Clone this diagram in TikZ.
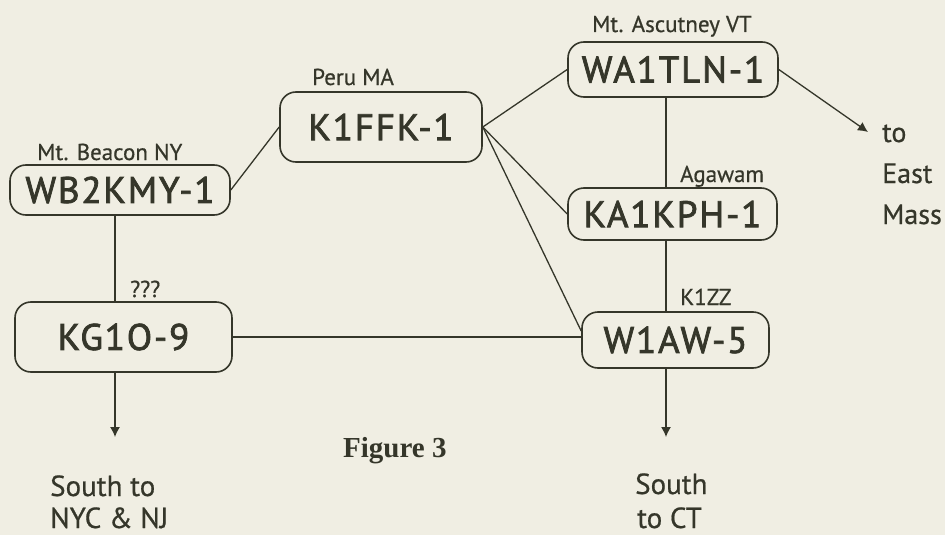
\documentclass[tikz,border=0pt]{standalone}
\usepackage{fontspec}
\setmainfont{PT Sans}
\newfontfamily\callfont[LetterSpace=5,FakeBold=2]{PT Sans}
\newfontfamily\sitefont[FakeBold=0.6]{PT Sans}
\newfontfamily\figfont{Liberation Serif}
\usetikzlibrary{arrows.meta}
\definecolor{ink}{HTML}{35362A}
\definecolor{paper}{HTML}{F0EEE3}
\tikzset{
  station/.style={draw=ink, line width=1.6pt, rounded corners=16pt, inner sep=0pt,
    text=ink, font=\callfont\fontsize{37}{40}\selectfont},
  site/.style={text=ink, font=\sitefont\fontsize{23}{26}\selectfont, inner sep=0pt, anchor=base west},
  link/.style={draw=ink, line width=1.3pt},
  feed/.style={link, -{Latex[length=10pt,width=10pt]}},
  dest/.style={text=ink, font=\sitefont\fontsize{29}{35}\selectfont, inner sep=0pt, anchor=base west},
}
\begin{document}
\begin{tikzpicture}[x=1pt,y=-1pt]
\fill[paper] (0,0) rectangle (945,535);
\useasboundingbox (0,0) rectangle (945,535);

% stations
\node[station, minimum width=220pt, minimum height=50pt] (wb) at (120,190) {WB2KMY-1};
\node[station, minimum width=202pt, minimum height=70pt] (kf) at (381,127) {K1FFK-1};
\node[station, minimum width=210pt, minimum height=55pt] (wa) at (673,69.5) {WA1TLN-1};
\node[station, minimum width=209pt, minimum height=52pt] (ka) at (672.5,214) {KA1KPH-1};
\node[station, minimum width=217pt, minimum height=70pt] (kg) at (123.5,337) {KG1O-9};
\node[station, minimum width=187pt, minimum height=56pt] (w1) at (675.5,340) {W1AW-5};

% site labels
\node[site] (lbeacon) at (37,160) {Mt. Beacon NY};
\node[site] (lperu) at (312,85) {Peru MA};
\node[site] (lascut) at (592,32) {Mt. Ascutney VT};
\node[site] (lagawam) at (680,182) {Agawam};
\node[site] (lk1zz) at (680,305) {K1ZZ};
\node[site] (lqqq) at (130,297) {???};

% helper coordinates
\coordinate (xl) at (115,0);
\coordinate (xr) at (666,0);
\coordinate (tipL) at (115,437);
\coordinate (tipR) at (666,437);
\coordinate (tipE) at (868,132);

% connectors
\draw[link] (wb.east) -- (kf.west);
\draw[link] (kf.east) -- (wa.west);
\draw[link] (kf.east) -- (ka.west);
\draw[link] (kf.east) -- ([yshift=9pt]w1.west);
\draw[link] (kg.east) -- (kg.east -| w1.west);
\draw[link] (wb.south -| xl) -- (kg.north -| xl);
\draw[link] (wa.south -| xr) -- (ka.north -| xr);
\draw[link] (ka.south -| xr) -- (w1.north -| xr);
\draw[feed] (kg.south -| xl) -- (tipL);
\draw[feed] (w1.south -| xr) -- (tipR);
\draw[feed] (wa.east) -- (tipE);

% destinations
\node[dest, font=\sitefont\fontsize{28}{34}\selectfont] (to1) at (882,142) {to};
\node[dest, font=\sitefont\fontsize{28}{34}\selectfont] (to2) at (882,183) {East};
\node[dest, font=\sitefont\fontsize{28}{34}\selectfont] (to3) at (882,224) {Mass};
\node[dest] (s1) at (50,496) {South to};
\node[dest] (s2) at (50,528) {NYC \& NJ};
\node[dest] (c1) at (635,494) {South};
\node[dest] (c2) at (637,528) {to CT};

% caption
\node[text=ink, font=\figfont\bfseries\fontsize{29}{32}\selectfont, inner sep=0pt, anchor=base west] (cap) at (343,457) {Figure 3};
\end{tikzpicture}
\end{document}
